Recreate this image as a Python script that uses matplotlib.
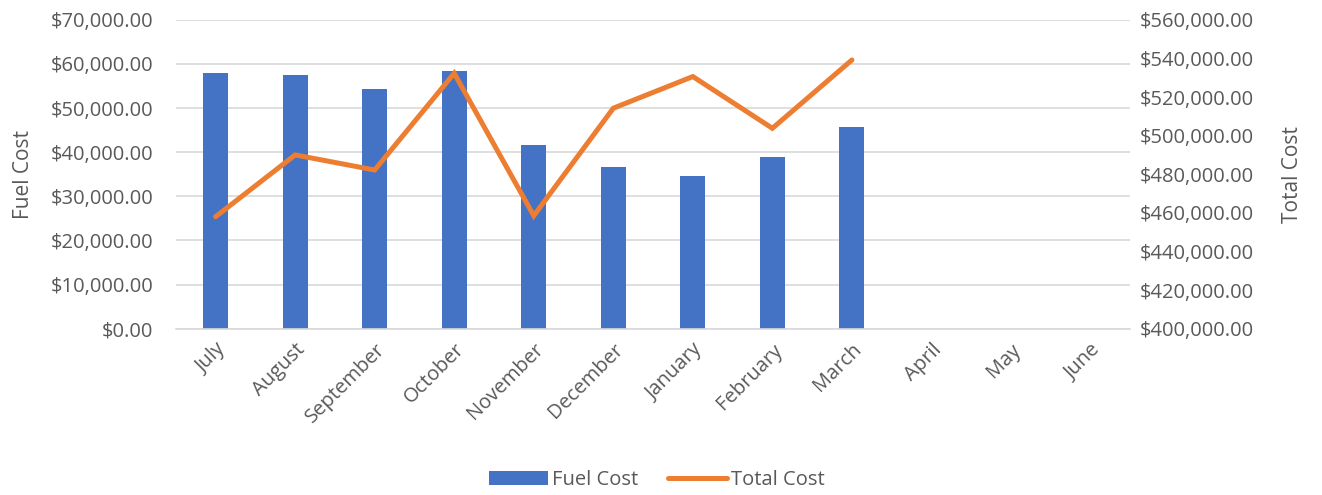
import matplotlib
matplotlib.use("Agg")
import matplotlib.pyplot as plt
from matplotlib.ticker import FuncFormatter, MultipleLocator

months = ["July", "August", "September", "October", "November", "December",
          "January", "February", "March", "April", "May", "June"]
fuel_cost = [58000, 57400, 54400, 58450, 41550, 36650, 34700, 38850, 45800]
total_cost = [458000, 490000, 482200, 532300, 458500, 514200, 530600, 503800, 539200]

plt.rcParams['font.family'] = ['Open Sans', 'DejaVu Sans']
txt = '#595959'

fig = plt.figure(figsize=(13.22, 4.95), dpi=100)
ax = fig.add_axes([0.133, 0.336, 0.722, 0.624])
ax2 = ax.twinx()

x = list(range(len(months)))
ax.bar(x[:len(fuel_cost)], fuel_cost, width=0.315, color='#4472C4', zorder=2, label='Fuel Cost')
ax2.plot(x[:len(total_cost)], total_cost, color='#ED7D31', lw=3.6, solid_capstyle='round',
         solid_joinstyle='miter', zorder=3, label='Total Cost')

ax.set_xlim(-0.5, len(months) - 0.5)
ax.set_ylim(0, 70000)
ax2.set_ylim(400000, 560000)
ax.yaxis.set_major_locator(MultipleLocator(10000))
ax2.yaxis.set_major_locator(MultipleLocator(20000))
fmt = FuncFormatter(lambda v, p: f"${v:,.2f}")
ax.yaxis.set_major_formatter(fmt)
ax2.yaxis.set_major_formatter(fmt)

ax.grid(axis='y', color='#D9D9D9', lw=1.2, zorder=0)
ax.set_axisbelow(True)
for a in (ax, ax2):
    for s in a.spines.values():
        s.set_visible(False)
    a.tick_params(length=0, colors=txt, labelsize=14.5)
ax.spines['bottom'].set_visible(True)
ax.spines['bottom'].set_color('#D9D9D9')
ax.spines['bottom'].set_linewidth(1.2)

ax.set_xticks(x)
ax.set_xticklabels(months, rotation=45, ha='right', rotation_mode='anchor')
ax.tick_params(axis='x', pad=8)
ax.tick_params(axis='y', pad=16)
ax2.tick_params(axis='y', pad=7)

ax.set_ylabel('Fuel Cost', color=txt, fontsize=15, labelpad=12)
ax2.set_ylabel('Total Cost', color=txt, fontsize=15, labelpad=20)

h1, l1 = ax.get_legend_handles_labels()
h2, l2 = ax2.get_legend_handles_labels()
fig.legend(h1 + h2, l1 + l2, loc='center', bbox_to_anchor=(0.497, 0.03), ncol=2,
           frameon=False, fontsize=14.5, labelcolor=txt, handlelength=2.9,
           handletextpad=0.2, columnspacing=1.5)

fig.savefig('out.png', dpi=100)
